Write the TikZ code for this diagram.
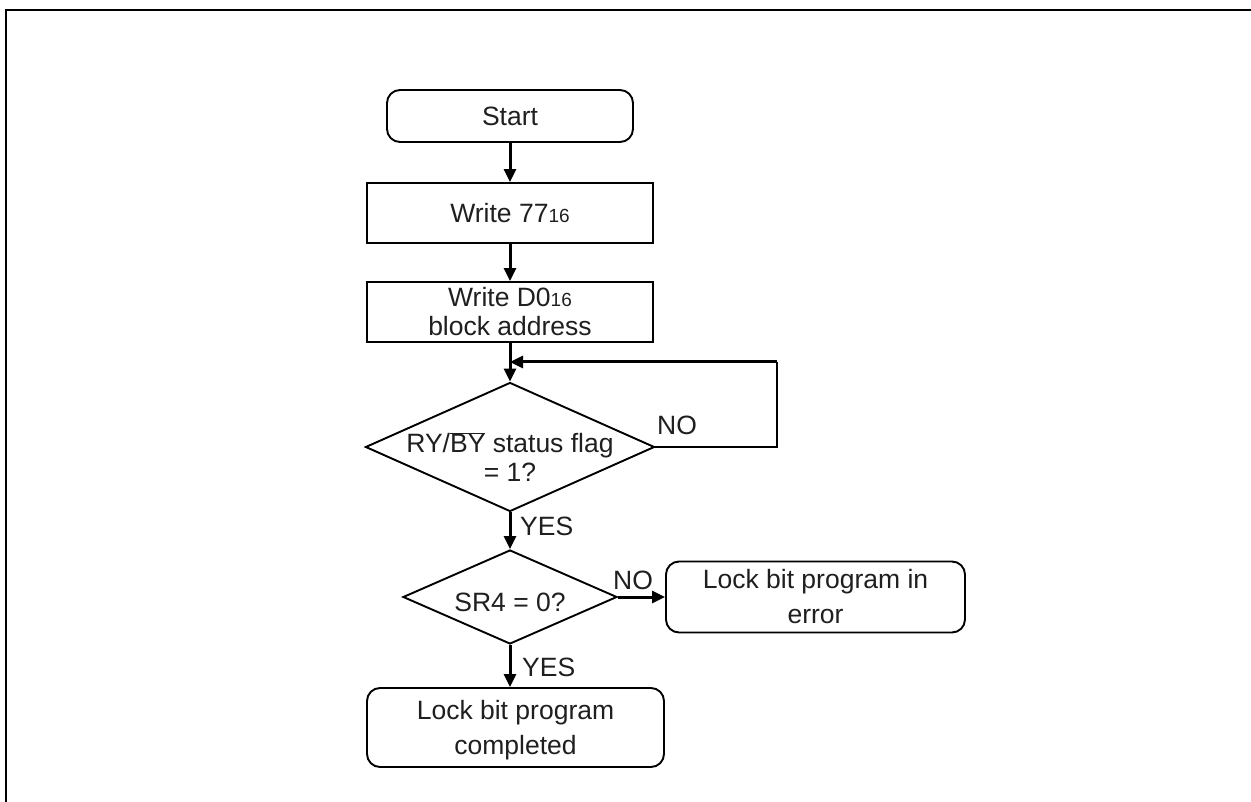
\documentclass[tikz,border=0pt]{standalone}
\usepackage{fontspec}
\setmainfont{Liberation Sans}
\usetikzlibrary{shapes.geometric,arrows.meta}
\newcommand\fsmain{\fontsize{26.5}{29}\selectfont}
\newcommand\fswide{\fontsize{26.5}{35}\selectfont}
\newcommand\sixteen{{\fontsize{19}{19}\selectfont 16}}
\begin{document}
\begin{tikzpicture}[x=1pt,y=-1pt,
  rect/.style={draw,line width=1.9pt,inner sep=0pt,align=center,font=\fsmain,text=black!88},
  rbox/.style={rect,rounded corners=13pt,font=\fswide},
  dia/.style={draw,shape=diamond,line width=1.9pt,inner sep=0pt},
  lbl/.style={inner sep=0pt,align=center,font=\fsmain,text=black!88},
  arr/.style={line width=3pt,-{Triangle[length=13pt,width=12pt]}},
  flow/.style={line width=2.4pt}]
\path[use as bounding box] (0,0) rectangle (1251,802);
\draw[line width=2.8pt] (6,802) -- (6,10) -- (1251,10);

\node[rbox,font=\fsmain,minimum width=246pt,minimum height=52pt] (start) at (510,116) {Start};
\node[rect,minimum width=286pt,minimum height=60pt] (w77) at (510,213) {Write 77\sixteen};
\node[rect,minimum width=286pt,minimum height=60pt] (wd0) at (510,312) {Write D0\sixteen\\block address};
\node[dia,minimum width=289pt,minimum height=129pt] (d1) at (510,447) {};
\node[lbl] (d1t) at (510,457) {RY/$\overline{\mbox{BY}}$ status flag\\= 1?};
\node[dia,minimum width=214pt,minimum height=94pt] (d2) at (510,597) {};
\node[lbl] (d2t) at (510,602) {SR4 = 0?};
\node[rbox,minimum width=299pt,minimum height=71pt] (err) at (815.5,597) {Lock bit program in\\error};
\node[rbox,text depth=0pt,minimum width=297pt,minimum height=79pt] (done) at (515.5,727.5) {Lock bit program\\completed};

\coordinate (join) at (510,362);
\coordinate (loopx) at (777,362);

\draw[arr] (start) -- (w77);
\draw[arr] (w77) -- (wd0);
\draw[arr] (wd0) -- (d1.north);
\draw[flow] (d1.east) -- (d1.east -| loopx) -- (loopx);
\draw[arr] (loopx) -- (join);
\draw[arr] (d1.south) -- (d2.north);
\draw[arr] (d2.east) -- (err.west);
\draw[arr] (d2.south) -- (d2.south |- done.north);

\node[lbl,anchor=base west] (no1) at (657,435) {NO};
\node[lbl,anchor=base west] (yes1) at (520,535) {YES};
\node[lbl,anchor=base west] (no2) at (613,589) {NO};
\node[lbl,anchor=base west] (yes2) at (522,676) {YES};
\end{tikzpicture}
\end{document}
